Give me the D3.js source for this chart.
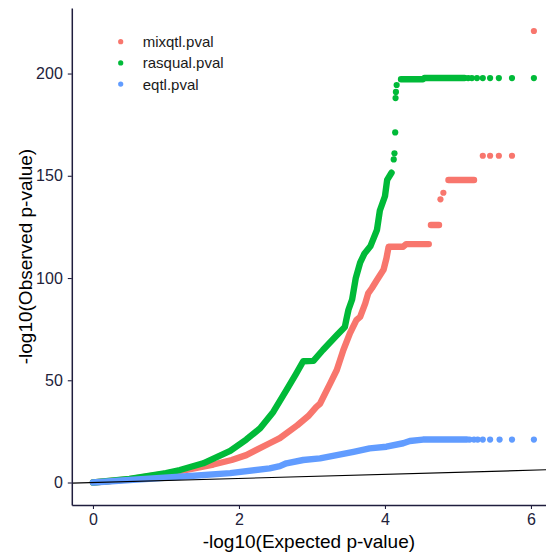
<!DOCTYPE html>
<html>
<head>
<meta charset="utf-8">
<script src="https://cdn.jsdelivr.net/npm/d3@7"></script>
<style>
  html, body { margin: 0; padding: 0; background: #ffffff; }
  svg { display: block; font-family: "Liberation Sans", Arial, sans-serif; }
</style>
</head>
<body>
<svg id="chart" width="546" height="555"></svg>
<script>
// QQ plot of -log10 p-values for three association methods.

const seriesNames = ["mixqtl.pval", "rasqual.pval", "eqtl.pval"];
const seriesColors = ["#F8766D", "#00BA38", "#619CFF"];

const xTicks = [0, 2, 4, 6];
const yTicks = [0, 50, 100, 150, 200];

// Dense part of each curve: [expected, observed] pairs along the band.
const mixqtlBand = [
  [0, 0], [0.5, 1.6], [1.0, 4.3], [1.3, 6.3], [1.65, 8.8], [1.9, 11], [2.1, 13.4],
  [2.2, 15.2], [2.42, 19.2], [2.56, 21.7], [2.8, 28], [2.95, 32.5], [3.06, 37],
  [3.11, 38.5], [3.25, 48.5], [3.34, 55], [3.43, 64.8], [3.52, 73], [3.61, 79.5],
  [3.66, 81], [3.73, 87.6], [3.77, 92.5], [3.82, 95], [3.89, 99], [3.98, 104],
  [4.02, 109.6], [4.05, 115.3], [4.25, 115.3], [4.29, 116.6], [4.60, 116.6]
];
const rasqualBand = [
  [0, 0], [0.5, 1.7], [1.0, 4.6], [1.19, 6.1], [1.51, 9.4], [1.88, 15.5], [2.1, 21],
  [2.29, 26.5], [2.47, 34.5], [2.65, 45.2], [2.78, 53], [2.88, 59.3], [3.02, 59.5],
  [3.15, 64.8], [3.34, 72], [3.45, 76], [3.47, 79.5], [3.5, 84.5], [3.55, 89.5],
  [3.6, 100], [3.66, 107.5], [3.72, 112], [3.8, 115.5], [3.89, 123.5], [3.93, 133],
  [4.0, 140], [4.03, 148], [4.09, 151.5]
];
const eqtlBand = [
  [0, 0], [0.5, 1.2], [1.19, 2.8], [1.88, 4.6], [2.42, 6.9], [2.56, 8], [2.65, 9.4],
  [2.88, 11], [3.11, 11.8], [3.34, 13.4], [3.57, 15], [3.79, 16.7], [4.02, 17.5],
  [4.25, 19.2], [4.34, 20.3], [4.52, 21], [5.12, 21]
];

// Flat runs of tied values near the top of each distribution.
const mixqtlRuns = [
  [[4.63, 125.9], [4.74, 125.9]],
  [[4.87, 147.9], [5.22, 147.9]]
];
const rasqualRuns = [
  [[4.22, 197.2], [4.52, 197.2], [4.54, 197.8], [5.09, 197.8]]
];
const eqtlRuns = [];

// Individual top-ranked points.
const mixqtlTop = [
  [4.76, 138.5], [4.80, 141.7], [5.34, 159.8], [5.44, 159.8], [5.56, 159.8],
  [5.74, 159.8], [6.04, 220.8]
];
const rasqualTop = [
  [4.12, 158], [4.13, 161], [4.14, 171.2], [4.145, 188], [4.15, 191], [4.16, 194.4],
  [5.14, 197.8], [5.19, 197.8], [5.26, 197.8], [5.34, 197.8], [5.44, 197.8],
  [5.56, 197.8], [5.74, 197.8], [6.04, 197.8]
];
const eqtlTop = [
  [5.16, 21], [5.22, 21], [5.27, 21], [5.34, 21], [5.44, 21], [5.57, 21],
  [5.74, 21], [6.04, 21]
];

const bands = [mixqtlBand, rasqualBand, eqtlBand];
const runs = [mixqtlRuns, rasqualRuns, eqtlRuns];
const tops = [mixqtlTop, rasqualTop, eqtlTop];

const svg = d3.select("#chart");
const W = 546, H = 555;
const panelLeft = 71.8, panelTop = 8.1, panelBottom = 505;
const unitX = 73;
const xDomain = [-0.29, 6.33];

const x = d3.scaleLinear()
  .domain(xDomain)
  .range([panelLeft, panelLeft + (xDomain[1] - xDomain[0]) * unitX]);
const y = d3.scaleLinear()
  .domain([-11, 232])
  .range([panelBottom, panelTop]);

const axisColor = "#1f1d3d";
const textColor = "#22223a";

svg.append("defs").append("clipPath").attr("id", "panel")
  .append("rect")
  .attr("x", panelLeft).attr("y", panelTop)
  .attr("width", W - panelLeft).attr("height", panelBottom - panelTop);

const panel = svg.append("g").attr("clip-path", "url(#panel)");

const line = d3.line().x(d => x(d[0])).y(d => y(d[1]));
const bandWidth = 6.4;
const dotR = 3.1;

seriesNames.forEach((name, i) => {
  const g = panel.append("g").attr("class", "series");
  g.append("path")
    .datum(bands[i])
    .attr("d", line)
    .attr("fill", "none")
    .attr("stroke", seriesColors[i])
    .attr("stroke-width", bandWidth)
    .attr("stroke-linejoin", "round")
    .attr("stroke-linecap", "round");
  runs[i].forEach(r => {
    g.append("path")
      .datum(r)
      .attr("d", line)
      .attr("fill", "none")
      .attr("stroke", seriesColors[i])
      .attr("stroke-width", bandWidth)
      .attr("stroke-linejoin", "round")
      .attr("stroke-linecap", "round");
  });
  g.selectAll("circle")
    .data(tops[i])
    .join("circle")
    .attr("cx", d => x(d[0]))
    .attr("cy", d => y(d[1]))
    .attr("r", dotR)
    .attr("fill", seriesColors[i]);
});

// Identity reference line y = x.
panel.append("line")
  .attr("x1", x(xDomain[0])).attr("y1", y(xDomain[0]))
  .attr("x2", x(xDomain[1])).attr("y2", y(xDomain[1]))
  .attr("stroke", "#000000")
  .attr("stroke-width", 1.1);

// Axes
const xAxis = svg.append("g")
  .attr("transform", `translate(0,${panelBottom})`)
  .call(d3.axisBottom(x).tickValues(xTicks).tickFormat(d3.format("d"))
    .tickSize(4).tickSizeOuter(0).tickPadding(5));
const yAxis = svg.append("g")
  .attr("transform", `translate(${panelLeft},0)`)
  .call(d3.axisLeft(y).tickValues(yTicks).tickFormat(d3.format("d"))
    .tickSize(4).tickSizeOuter(0).tickPadding(5));

[xAxis, yAxis].forEach(a => {
  a.select(".domain").attr("stroke", axisColor).attr("stroke-width", 1.5);
  a.selectAll(".tick line").attr("stroke", axisColor).attr("stroke-width", 1.1);
  a.selectAll(".tick text")
    .attr("fill", textColor)
    .style("font-size", "16px")
    .style("font-family", "'Liberation Sans', Arial, sans-serif");
});

// Axis titles
svg.append("text")
  .attr("x", (panelLeft + W) / 2)
  .attr("y", 548)
  .attr("text-anchor", "middle")
  .attr("fill", "#000000")
  .style("font-size", "19px")
  .text("-log10(Expected p-value)");

svg.append("text")
  .attr("transform", `translate(32,${(panelTop + panelBottom) / 2}) rotate(-90)`)
  .attr("text-anchor", "middle")
  .attr("fill", "#000000")
  .style("font-size", "19px")
  .text("-log10(Observed p-value)");

// Legend
const legend = svg.append("g").attr("transform", "translate(120.7,41.7)");
seriesNames.forEach((name, i) => {
  const row = legend.append("g").attr("transform", `translate(0,${i * 21.2})`);
  row.append("circle").attr("r", 2.6).attr("fill", seriesColors[i]);
  row.append("text")
    .attr("x", 22)
    .attr("y", 5.4)
    .attr("fill", "#1a1a1a")
    .style("font-size", "15px")
    .text(name);
});
</script>
</body>
</html>
